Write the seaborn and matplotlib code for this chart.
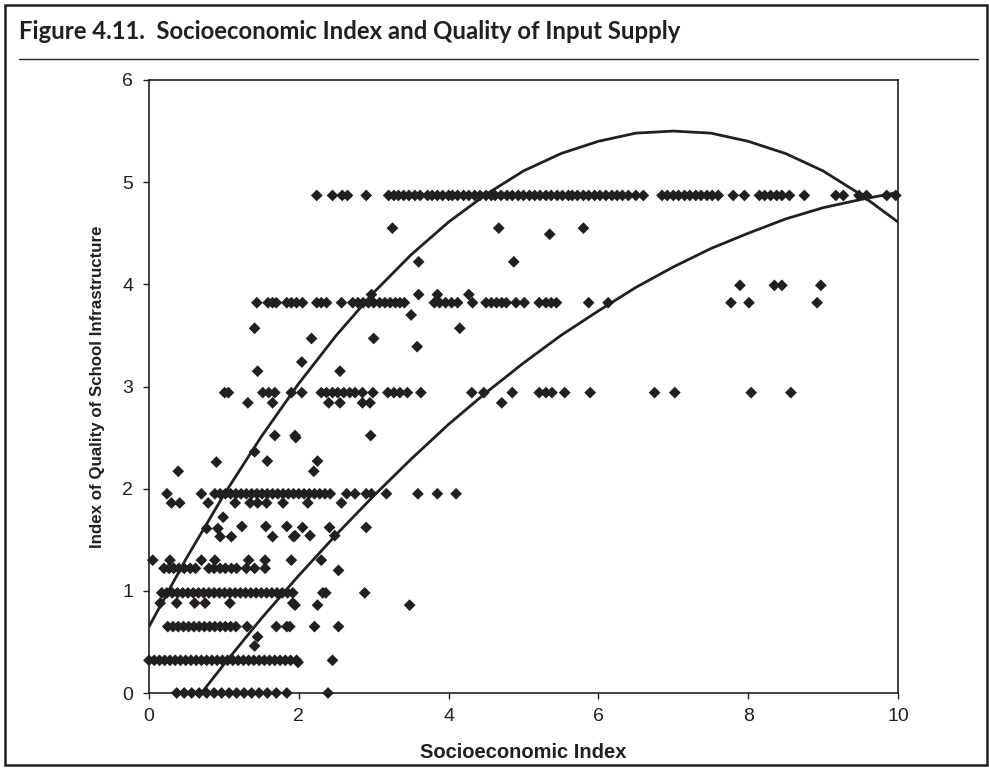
import numpy as np
import pandas as pd
import matplotlib
matplotlib.use("Agg")
import matplotlib.pyplot as plt
from matplotlib.patches import Rectangle
from matplotlib.lines import Line2D
import seaborn as sns

# ---- scatter data: socioeconomic index (x) by infrastructure quality level (y) ----
lvl_487 = 4.87
x_487 = [2.24, 2.45, 2.58, 2.65, 2.9, 3.2, 3.27, 3.33, 3.4, 3.47, 3.55, 3.62, 3.72, 3.78,
         3.85, 3.92, 4.0, 4.05, 4.12, 4.2, 4.27, 4.35, 4.42, 4.5, 4.57, 4.62, 4.7, 4.78,
         4.85, 4.93, 5.0, 5.08, 5.15, 5.22, 5.3, 5.37, 5.45, 5.52, 5.6, 5.65, 5.72, 5.8,
         5.87, 5.95, 6.02, 6.1, 6.18, 6.25, 6.32, 6.4, 6.5, 6.6, 6.85, 6.92, 7.0, 7.07,
         7.15, 7.22, 7.3, 7.37, 7.45, 7.52, 7.6, 7.8, 7.95, 8.15, 8.22, 8.3, 8.38, 8.45,
         8.55, 8.75, 9.17, 9.27, 9.48, 9.58, 9.85, 9.97]

lvl_382 = 3.82
x_382 = [1.44, 1.59, 1.65, 1.7, 1.84, 1.9, 1.97, 2.05, 2.24, 2.3, 2.37, 2.57, 2.72, 2.79,
         2.86, 2.93, 3.0, 3.08, 3.15, 3.22, 3.29, 3.35, 3.41, 3.81, 3.88, 3.96, 4.04, 4.12,
         4.32, 4.5, 4.57, 4.64, 4.71, 4.77, 4.9, 5.01, 5.21, 5.3, 5.37, 5.44, 5.87, 6.13,
         7.77, 8.01, 8.92]

lvl_294 = 2.94
x_294 = [1.01, 1.06, 1.52, 1.6, 1.68, 1.9, 2.04, 2.3, 2.37, 2.45, 2.52, 2.6, 2.68, 2.75,
         2.85, 2.99, 3.19, 3.27, 3.35, 3.45, 3.63, 4.31, 4.47, 4.85, 5.21, 5.3, 5.38,
         5.55, 5.89, 6.75, 7.02, 8.04, 8.57]

lvl_195 = 1.95
x_195 = [0.24, 0.7, 0.88, 0.95, 1.02, 1.09, 1.16, 1.23, 1.3, 1.37, 1.44, 1.51, 1.58,
         1.65, 1.72, 1.79, 1.86, 1.93, 2.0, 2.07, 2.14, 2.21, 2.28, 2.35, 2.42, 2.64,
         2.75, 2.9, 2.97, 3.17, 3.59, 3.85, 4.1]

lvl_122 = 1.22
x_122 = [0.2, 0.27, 0.33, 0.4, 0.47, 0.55, 0.62, 0.8, 0.87, 0.95, 1.02, 1.1, 1.17,
         1.3, 1.41, 1.55]

lvl_098 = 0.98
x_098 = [0.17, 0.24, 0.31, 0.38, 0.45, 0.52, 0.59, 0.66, 0.73, 0.8, 0.87, 0.94, 1.01,
         1.08, 1.15, 1.22, 1.29, 1.36, 1.43, 1.5, 1.57, 1.64, 1.71, 1.78, 1.85, 1.92,
         2.32, 2.36, 2.88]

lvl_065 = 0.65
x_065 = [0.25, 0.32, 0.39, 0.46, 0.53, 0.6, 0.67, 0.74, 0.81, 0.88, 0.95, 1.02, 1.09,
         1.16, 1.31, 1.7, 1.84, 1.88, 2.21, 2.53]

lvl_033 = 0.32
x_033 = [0.0, 0.07, 0.14, 0.21, 0.28, 0.35, 0.42, 0.49, 0.56, 0.63, 0.7, 0.77, 0.84,
         0.91, 0.98, 1.05, 1.12, 1.19, 1.26, 1.33, 1.4, 1.47, 1.54, 1.61, 1.68, 1.75,
         1.82, 1.89, 1.97, 2.45]

lvl_000 = 0.0
x_000 = [0.37, 0.47, 0.57, 0.67, 0.77, 0.87, 0.97, 1.07, 1.17, 1.27, 1.37, 1.47, 1.58,
         1.7, 1.84, 2.39]

# scattered observations between the main levels
x_other = [3.25, 4.67, 5.35, 5.8, 3.6, 4.87, 3.6, 3.85, 4.27, 2.97, 3.5, 4.15, 3.58,
           1.41, 2.17, 3.0, 2.04, 1.45, 2.55, 7.89, 8.35, 8.45, 8.97,
           1.32, 1.65, 2.4, 2.55, 2.85, 2.95, 4.71, 1.68, 1.95, 2.96, 1.96,
           0.39, 0.9, 1.41, 1.58, 2.25, 2.2,
           0.3, 0.41, 0.79, 1.15, 1.35, 1.45, 1.57, 1.79, 2.12, 2.57,
           0.99, 0.77, 0.92, 0.95, 1.1, 1.24, 1.56, 1.65, 1.84, 1.93,
           2.05, 2.41, 2.9, 1.95, 2.15, 2.48,
           0.05, 0.28, 0.7, 0.88, 1.33, 1.55, 1.9, 2.3, 2.53,
           0.15, 0.37, 0.61, 0.75, 1.08, 1.92, 1.95, 2.25, 3.48,
           1.45, 1.41, 1.99]
y_other = [4.55, 4.55, 4.49, 4.55, 4.22, 4.22, 3.9, 3.9, 3.9, 3.9, 3.7, 3.57, 3.39,
           3.57, 3.47, 3.47, 3.24, 3.15, 3.15, 3.99, 3.99, 3.99, 3.99,
           2.84, 2.84, 2.84, 2.84, 2.84, 2.84, 2.84, 2.52, 2.52, 2.52, 2.5,
           2.17, 2.26, 2.36, 2.27, 2.27, 2.17,
           1.86, 1.86, 1.86, 1.86, 1.86, 1.86, 1.86, 1.86, 1.86, 1.86,
           1.72, 1.61, 1.61, 1.53, 1.53, 1.63, 1.63, 1.53, 1.63, 1.53,
           1.62, 1.62, 1.62, 1.54, 1.54, 1.54,
           1.3, 1.3, 1.3, 1.3, 1.3, 1.3, 1.3, 1.3, 1.2,
           0.88, 0.88, 0.88, 0.88, 0.88, 0.88, 0.86, 0.86, 0.86,
           0.55, 0.46, 0.3]

# ---- trend curves ----
upper_x = [0, 0.5, 1, 1.5, 2, 2.5, 3, 3.5, 4, 4.5, 5, 5.5, 6, 6.5, 7, 7.5, 8, 8.5,
           9, 9.5, 10]
upper_y = [0.65, 1.32, 1.94, 2.51, 3.03, 3.50, 3.92, 4.29, 4.61, 4.88, 5.11, 5.28,
           5.40, 5.48, 5.50, 5.48, 5.40, 5.28, 5.11, 4.88, 4.61]
lower_x = [0.7, 1, 1.5, 2, 2.5, 3, 3.5, 4, 4.5, 5, 5.5, 6, 6.5, 7, 7.5, 8, 8.5, 9,
           9.5, 10]
lower_y = [0.0, 0.28, 0.73, 1.15, 1.55, 1.93, 2.29, 2.63, 2.94, 3.23, 3.50, 3.74,
           3.97, 4.17, 4.35, 4.50, 4.64, 4.75, 4.83, 4.90]

x_ticks = [0, 2, 4, 6, 8, 10]
y_ticks = [0, 1, 2, 3, 4, 5, 6]

title_text = "Figure 4.11.  Socioeconomic Index and Quality of Input Supply"
x_label = "Socioeconomic Index"
y_label = "Index of Quality of School Infrastructure"

# assemble the point table
xs, ys = [], []
for lvl, row in [(lvl_487, x_487), (lvl_382, x_382), (lvl_294, x_294), (lvl_195, x_195),
                 (lvl_122, x_122), (lvl_098, x_098), (lvl_065, x_065), (lvl_033, x_033),
                 (lvl_000, x_000)]:
    xs += row
    ys += [lvl] * len(row)
xs += x_other
ys += y_other
points = pd.DataFrame({"ses": xs, "quality": ys})

ink = "#231f20"

sns.set_theme(style="ticks")
plt.rcParams["font.family"] = ["Liberation Sans", "DejaVu Sans"]

W, H = 989, 768
fig = plt.figure(figsize=(W / 100, H / 100), dpi=100)
ax = fig.add_axes([149 / W, 1 - 693 / H, (898 - 149) / W, (693 - 80) / H])

sns.scatterplot(data=points, x="ses", y="quality", marker="D", s=36, color=ink,
                edgecolor="none", ax=ax, zorder=3, clip_on=False)
sns.lineplot(x=upper_x, y=upper_y, color=ink, lw=2.0, ax=ax, estimator=None,
             sort=False, zorder=4)
sns.lineplot(x=lower_x, y=lower_y, color=ink, lw=2.0, ax=ax, estimator=None,
             sort=False, zorder=4)

ax.set_xlim(0, 10)
ax.set_ylim(0, 6)
ax.set_xticks(x_ticks)
ax.set_yticks(y_ticks)
ax.tick_params(axis="both", direction="out", length=4.5, width=1, color=ink,
               labelsize=14, labelcolor=ink)
ax.tick_params(axis="x", pad=6)
ax.tick_params(axis="y", pad=7)
for sp in ax.spines.values():
    sp.set_color(ink)
    sp.set_linewidth(1.2)
    sp.set_visible(True)

ax.set_xlabel(x_label, fontsize=14.5, fontweight="bold", color=ink)
ax.xaxis.label.set_va("center")
ax.xaxis.set_label_coords(0.5, (693 - 752) / (693 - 80))
ax.set_ylabel(y_label, fontsize=12.2, fontweight="bold", color=ink)
ax.yaxis.label.set_va("center")
ax.yaxis.set_label_coords((98 - 149) / (898 - 149), 0.5)

# frame around the figure, title and rule
fig.patches.append(Rectangle((4.5 / W, 1 - 765 / H), (987 - 4.5) / W, (765 - 5) / H,
                             transform=fig.transFigure, fill=False, ec=ink, lw=1.8))
fig.lines.append(Line2D([19 / W, 978 / W], [1 - 59 / H, 1 - 59 / H],
                        transform=fig.transFigure, color=ink, lw=1.0))
title = fig.text(19 / W, 1 - 39 / H, title_text, fontsize=15, fontweight="bold",
                 family=["Lato", "DejaVu Sans"], color=ink, ha="left", va="baseline")

# size the heading so that it runs from the left margin to x = 684 px
fig.canvas.draw()
span = title.get_window_extent(fig.canvas.get_renderer()).width
title.set_fontsize(15 * (684 - 19) / span)

fig.savefig("out.png", dpi=100, facecolor="white")
